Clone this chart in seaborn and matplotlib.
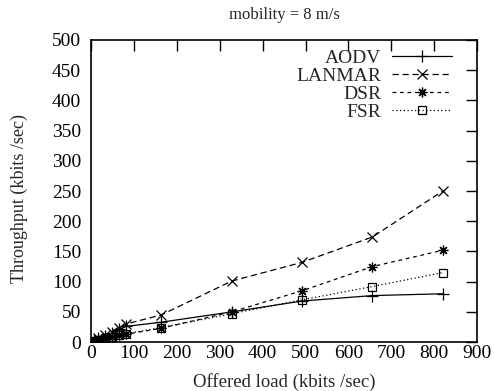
import matplotlib
matplotlib.use("Agg")
import matplotlib.pyplot as plt
import seaborn as sns
import pandas as pd

offered_load = [8.2, 16.4, 32.8, 49.2, 65.6, 82, 164, 328, 492, 656, 820]
aodv = [3, 6, 10, 15, 21, 26, 33, 50, 68, 77, 80]
lanmar = [3, 6, 11, 17, 24, 30, 45, 101, 132, 174, 250]
dsr = [2, 4, 7, 9, 11, 13, 23, 50, 85, 125, 152]
fsr = [2, 4, 7, 9, 11, 14, 24, 47, 70, 92, 115]
protocols = ["AODV", "LANMAR", "DSR", "FSR"]
x_ticks = [0, 100, 200, 300, 400, 500, 600, 700, 800, 900]
y_ticks = [0, 50, 100, 150, 200, 250, 300, 350, 400, 450, 500]

sns.set_theme(style="white")
plt.rcParams['font.family'] = ['Liberation Serif', 'DejaVu Serif']
plt.rcParams['axes.edgecolor'] = 'black'

fig = plt.figure(figsize=(4.94, 3.91), dpi=100)
ax = fig.add_axes([0.184, 0.125, 0.782, 0.773])

series = {"AODV": aodv, "LANMAR": lanmar, "DSR": dsr, "FSR": fsr}
styles = {
    "AODV": dict(marker="+", dashes=(None, None), ls="-", ms=8),
    "LANMAR": dict(marker="x", dashes=(5, 3), ls="--", ms=7),
    "DSR": dict(marker=(8, 2, 0), dashes=(3, 3), ls="--", ms=7),
    "FSR": dict(marker="s", dashes=(1, 2), ls=":", ms=6),
}
for name in protocols:
    df = pd.DataFrame({"load": offered_load, "thr": series[name]})
    st = styles[name]
    sns.lineplot(data=df, x="load", y="thr", ax=ax, color="black",
                 linewidth=0.9, marker=st["marker"], markersize=st["ms"],
                 markeredgewidth=0.9, markerfacecolor="none",
                 markeredgecolor="black", label=name, linestyle=st["ls"])
for line, name in zip(ax.get_lines(), protocols):
    d = styles[name]["dashes"]
    if d[0] is not None:
        line.set_dashes(d)

ax.set_xlim(0, 900)
ax.set_ylim(0, 500)
ax.set_xticks(x_ticks)
ax.set_yticks(y_ticks)
ax.tick_params(direction="in", length=8, width=1, top=True, right=True,
               labelsize=14, colors="black")
ax.tick_params(axis="x", pad=2)
ax.tick_params(axis="y", pad=7)
for s in ax.spines.values():
    s.set_linewidth(1.2)
    s.set_color("black")
ax.set_xlabel("Offered load (kbits /sec)", fontsize=13.5)
ax.xaxis.set_label_coords(0.5, -0.104)
ax.set_ylabel("Throughput (kbits /sec)", fontsize=13)
ax.yaxis.set_label_coords(-0.163, 0.474)
ax.set_title("mobility = 8 m/s", fontsize=12, pad=15)

leg = ax.legend(loc="upper right", bbox_to_anchor=(0.935, 0.97),
                frameon=False, markerfirst=False,
                fontsize=14, handlelength=3.1, labelspacing=0.02,
                borderaxespad=0, borderpad=0, handletextpad=0.55)
for t in leg.get_texts():
    t.set_ha("right")
leg._legend_box.align = "right"
for h, name in zip(leg.legend_handles, protocols):
    d = styles[name]["dashes"]
    if d[0] is not None:
        h.set_dashes(d)

fig.savefig("out.png", dpi=100)
